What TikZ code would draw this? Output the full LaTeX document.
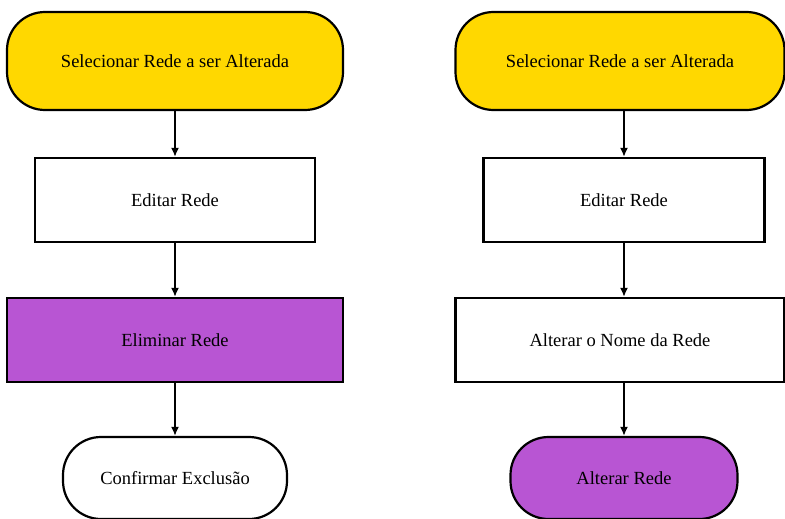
\documentclass[tikz,border=0pt]{standalone}
\usepackage{fontspec}
\setmainfont{Liberation Serif}
\usetikzlibrary{arrows.meta}
\definecolor{gold}{HTML}{FFD800}
\definecolor{purp}{HTML}{B855D3}
\begin{document}
\begin{tikzpicture}[x=1pt,y=-1pt,
  base/.style={draw=black,line width=2.2pt,inner sep=0pt,font=\fontsize{18.5}{22}\selectfont},
  term/.style={base,rounded corners=38pt},
  proc/.style={base},
  arr/.style={line width=2pt,-{Latex[length=9pt,width=8pt]}}]
\useasboundingbox (0,0) rectangle (785,519);
\begin{scope}
\clip (0,0) rectangle (785,519);
% left column
\node[term,fill=gold,minimum width=336pt,minimum height=98pt] (l1) at (175,61) {Selecionar Rede a ser Alterada};
\node[proc,fill=white,minimum width=280pt,minimum height=84pt] (l2) at (175,200) {Editar Rede};
\node[proc,fill=purp,minimum width=336pt,minimum height=84pt] (l3) at (175,340) {Eliminar Rede};
\node[term,fill=white,minimum width=224pt,minimum height=82pt] (l4) at (175,478) {Confirmar Exclusão};
% right column
\node[term,fill=gold,minimum width=329pt,minimum height=98pt] (r1) at (620,61) {Selecionar Rede a ser Alterada};
\node[proc,fill=white,minimum width=281pt,minimum height=84pt] (r2) at (624,200) {Editar Rede};
\node[proc,fill=white,minimum width=329pt,minimum height=84pt] (r3) at (620,340) {Alterar o Nome da Rede};
\node[term,fill=purp,minimum width=227pt,minimum height=82pt] (r4) at (624,478) {Alterar Rede};
\end{scope}
\draw[arr] (l1.south) -- (l2.north);
\draw[arr] (l2.south) -- (l3.north);
\draw[arr] (l3.south) -- (l4.north);
\draw[arr] (r1.south -| r2.north) -- (r2.north);
\draw[arr] (r2.south) -- (r3.north -| r2.south);
\draw[arr] (r3.south -| r4.north) -- (r4.north);
\end{tikzpicture}
\end{document}
